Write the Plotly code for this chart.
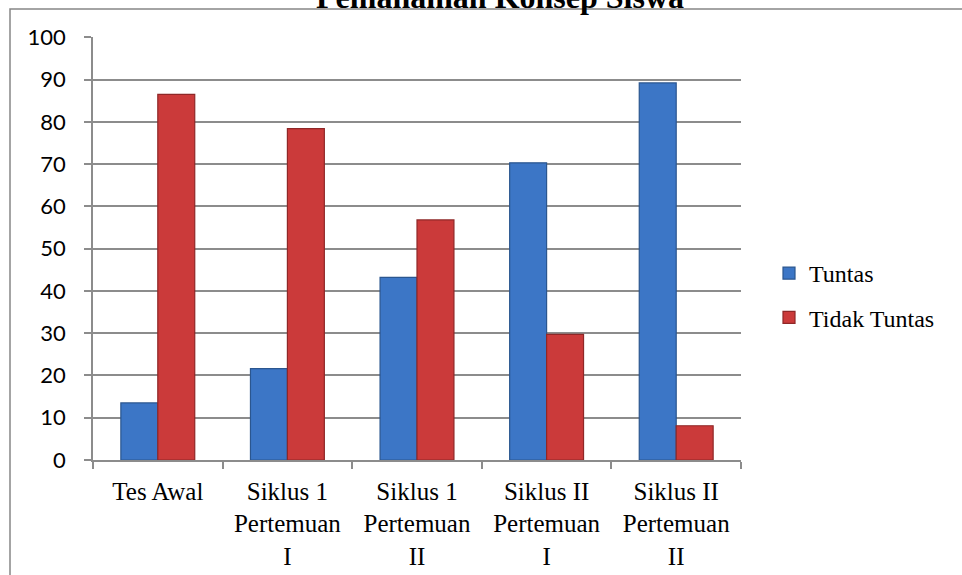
import plotly.graph_objects as go

# Ketuntasan pemahaman konsep per tahap
categories = [
    "Tes Awal",
    "Siklus 1<br>Pertemuan<br>I",
    "Siklus 1<br>Pertemuan<br>II",
    "Siklus II<br>Pertemuan<br>I",
    "Siklus II<br>Pertemuan<br>II",
]
tuntas = [13.5, 21.6, 43.2, 70.3, 89.2]
tidak_tuntas = [86.5, 78.4, 56.8, 29.7, 8.1]
y_ticks = [0, 10, 20, 30, 40, 50, 60, 70, 80, 90, 100]

W, H = 962, 575
serif = "Liberation Serif, Times New Roman, serif"
sans = "Lato, Liberation Sans, sans-serif"
grid = "#8c8c8c"

fig = go.Figure()
fig.add_trace(go.Bar(
    name="Tuntas", x=categories, y=tuntas, legendgroup="a",
    marker=dict(color="#3c76c6", line=dict(color="#2b568f", width=1.2)),
))
fig.add_trace(go.Bar(
    name="Tidak Tuntas", x=categories, y=tidak_tuntas, legendgroup="b",
    marker=dict(color="#cb3a3a", line=dict(color="#8f2727", width=1.2)),
))

fig.update_layout(
    width=W, height=H,
    margin=dict(l=0, r=0, t=0, b=0, autoexpand=False),
    paper_bgcolor="white", plot_bgcolor="white",
    barmode="group", bargap=0.43, bargroupgap=0,
    title=dict(
        text="<b>Pemahaman Konsep Siswa</b>",
        font=dict(family=serif, size=32, color="black"),
        x=500 / W, xanchor="center", xref="paper",
        y=1 - 8 / H, yanchor="bottom", yref="container",
        automargin=False,
    ),
    xaxis=dict(
        domain=[93 / W, 741 / W], automargin=False,
        showgrid=False, showline=True, linecolor=grid, linewidth=1.5,
        ticks="outside", tickson="boundaries", ticklen=7, tickcolor=grid, tickwidth=1.5,
        tickfont=dict(family=serif, size=25, color="black"),
        ticklabelstandoff=8,
    ),
    yaxis=dict(
        domain=[1 - 460 / H, 1 - 37.3 / H], automargin=False,
        range=[0, 100], tickvals=y_ticks,
        showgrid=True, gridcolor=grid, gridwidth=1.5,
        showline=True, linecolor=grid, linewidth=1.5,
        ticks="outside", ticklen=7, tickcolor=grid, tickwidth=1.5,
        tickfont=dict(family=sans, size=22, color="black"),
        ticklabelstandoff=14, zeroline=False,
    ),
    legend=dict(
        x=769 / W, xanchor="left", y=1 - 251 / H, yanchor="top",
        font=dict(family=serif, size=24, color="black"),
        tracegroupgap=10, itemwidth=30, bgcolor="rgba(0,0,0,0)",
    ),
    showlegend=True,
    shapes=[dict(
        type="rect", xref="paper", yref="paper",
        x0=10 / W, x1=1.05, y0=-0.05, y1=1 - 9 / H,
        line=dict(color="#868686", width=1.5), layer="below",
    )],
)

fig.write_html("out.html")
